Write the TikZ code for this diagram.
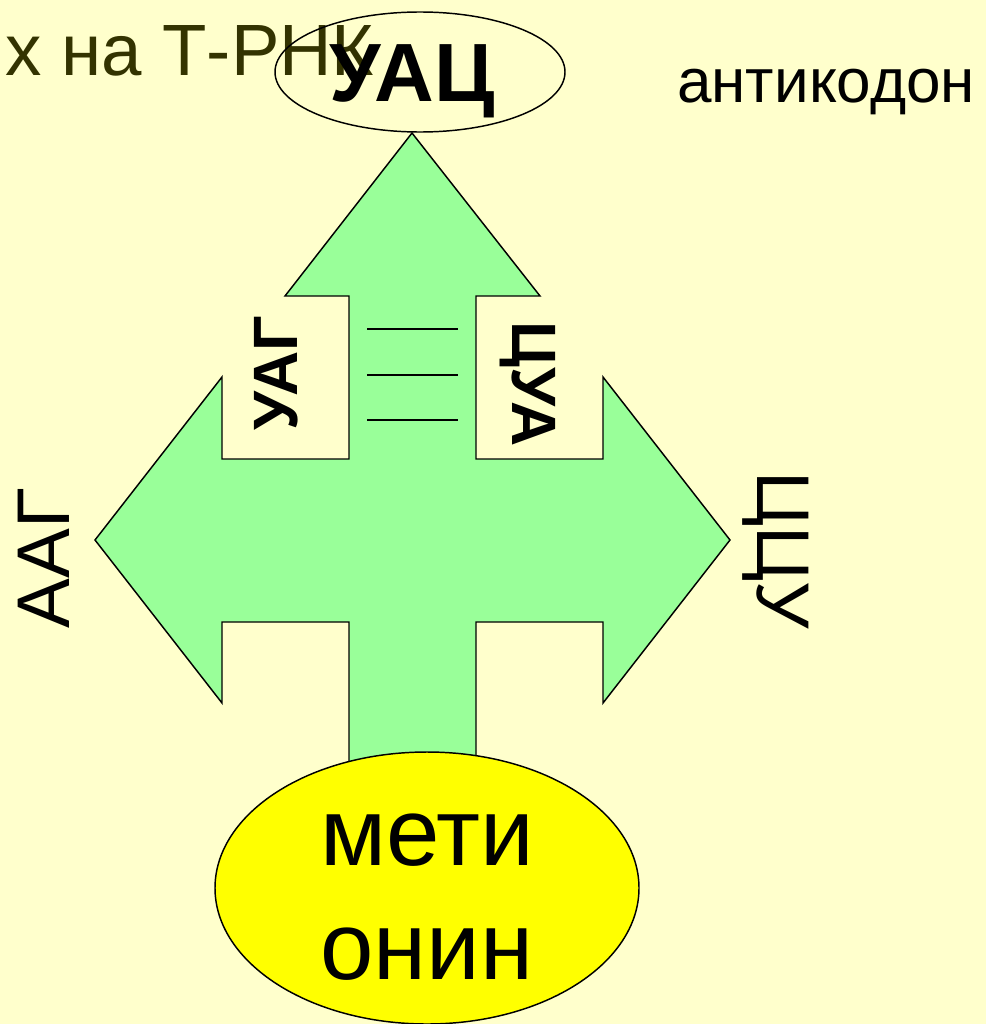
\documentclass[tikz,border=0pt]{standalone}
\usepackage{fontspec}
\setmainfont{Liberation Sans}
\usetikzlibrary{shapes.geometric, positioning}
\definecolor{slidebg}{HTML}{FFFFCC}
\definecolor{crossgreen}{HTML}{99FF99}
\definecolor{aminoyellow}{HTML}{FFFF00}
\definecolor{olivetext}{HTML}{333300}

\begin{document}
\begin{tikzpicture}[
  x=0.75pt, y=-0.75pt,
  oval/.style={draw, ellipse, line width=1.1pt, inner sep=0pt},
  codon/.style={anchor=base, font=\fontsize{56pt}{60pt}\selectfont},
  paired/.style={anchor=base, font=\bfseries\fontsize{47pt}{50pt}\selectfont},
  bond/.style={line width=1pt}
]
  % Slide background
  \fill[slidebg] (0,0) rectangle (986,1024);
  \useasboundingbox (0,0) rectangle (986,1024);

  % Heading texts
  \node[anchor=base west, inner sep=0pt, text=olivetext,
        font=\fontsize{54.5pt}{60pt}\selectfont] (title) at (5,75) {х на Т-РНК};
  \node[anchor=base west, inner sep=0pt,
        font=\fontsize{46.5pt}{50pt}\selectfont] (antilabel) at (677,103) {антикодон};

  % Cross-shaped arrow
  \draw[fill=crossgreen, line width=1.1pt, line join=miter]
    (412,133) -- (540,296) -- (476,296) -- (476,459) -- (603,459)
    -- (603,377) -- (730,540) -- (603,703) -- (603,622) -- (476,622)
    -- (476,800) -- (349,800) -- (349,622) -- (222,622) -- (222,703)
    -- (95,540) -- (222,377) -- (222,459) -- (349,459) -- (349,296)
    -- (285,296) -- cycle;

  % Hydrogen bonds
  \foreach \y in {329,375,420}
    \draw[bond] (367,\y) -- (458,\y);

  % Anticodon
  \node[oval, minimum width=217.5pt, minimum height=90pt] (trnaoval) at (420,72) {};
  \node[anchor=base, inner sep=0pt,
        font=\bfseries\fontsize{62pt}{66pt}\selectfont] (anticodon) at (412,102) {УАЦ};

  % Codons
  \node[codon, rotate=90] (aag) at (69,558) {ААГ};
  \node[codon, rotate=-90] (ccu) at (757,550) {ЦЦУ};
  \node[paired, rotate=90] (uag) at (297,373) {УАГ};
  \node[paired, rotate=-90] (cua) at (512,384) {ЦУА};

  % Amino acid
  \node[oval, fill=aminoyellow, minimum width=318pt, minimum height=204pt] (aminoacid) at (427,888) {};
  \node[align=center, inner sep=0pt,
        font=\fontsize{72pt}{86pt}\selectfont] (metlabel) at (427,897) {мети\\онин};
\end{tikzpicture}
\end{document}
